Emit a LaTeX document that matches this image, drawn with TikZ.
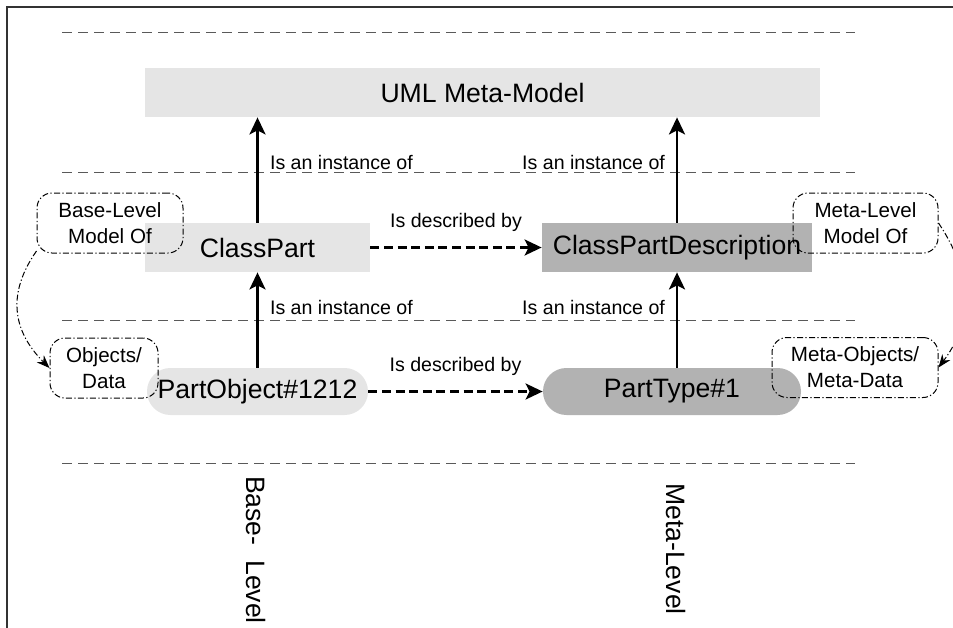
\documentclass[tikz,border=0pt]{standalone}
\usepackage{fontspec}
\setmainfont{Liberation Sans}
\usetikzlibrary{arrows.meta}
\tikzset{
	box/.style={
		fill = gray!20,
		minimum height = 24.5pt,
		inner sep = 0pt,
		font = \fontsize{13.3}{16}\selectfont
	},
	darkbox/.style={
		fill = gray!60
	},
	pill/.style={
		box,
		minimum height = 23.5pt,
		rounded corners = 11.7pt
	},
	note/.style={
		draw,
		line width = 0.5pt,
		dash pattern = on 3pt off 1.2pt on 0.6pt off 1.2pt,
		rounded corners = 7.5pt,
		minimum height = 30pt,
		inner sep = 0pt,
		align = center,
		font = \fontsize{10.3}{13}\selectfont
	},
	link/.style={
		line width = 0.5pt,
		dash pattern = on 3pt off 1.2pt on 0.6pt off 1.2pt,
		-{Stealth[length=6.5pt,width=5pt]}
	},
	inst/.style={
		line width = 1.25pt,
		->
	},
	desc/.style={
		inst,
		dash pattern = on 4.5pt off 2.3pt
	},
	sep/.style={
		black!65,
		line width = 0.5pt,
		dash pattern = on 5pt off 3pt
	},
	frame/.style={
		black!80,
		line width = 1pt
	},
}
\tikzset{>={Stealth[length=8.5pt,width=8pt,inset=2pt]}}

\begin{document}
\begin{tikzpicture}[x=0.5pt, y=-0.5pt, font=\fontsize{9.8}{12}\selectfont]
    \clip (0,0) rectangle (953,627);
    \draw[frame] (7,640) -- (7,7) -- (960,7);
    \foreach \y in {32,172,320,463}{
      \draw[sep] (62,\y) -- (855,\y);
    }
    % models and objects
    \node[box, minimum width=337.5pt] (uml) at (482.5,92.5) {UML Meta-Model};
    \node[box, minimum width=112.5pt] (cp) at (257.5,247.5) {ClassPart};
    \node[box, darkbox, minimum width=135pt] (cpd) at (677,247.5) {ClassPartDescription};
    \node[pill, minimum width=110.5pt] (po) at (257.5,391.5) {PartObject\#1212};
    \node[pill, darkbox, minimum width=129pt] (pt) at (672,391.5) {PartType\#1};
    % instance-of and described-by relations
    \draw[inst] (cp.north) -- (cp.north |- uml.south);
    \draw[inst] (cpd.north) -- (cpd.north |- uml.south);
    \draw[inst] (po.north) -- (po.north |- cp.south);
    \draw[inst] (cpd.south |- pt.north) -- (cpd.south);
    \node[anchor=west] at (263,162) {Is an instance of};
    \node[anchor=east] at (672,162) {Is an instance of};
    \node[anchor=west] at (263,307) {Is an instance of};
    \node[anchor=east] at (672,307) {Is an instance of};
    \draw[desc] (cp) -- node[above=4pt] {Is described by} (cpd);
    \draw[desc] (po) -- node[above=4pt] {Is described by} (pt);
    % side notes
    \node[note, minimum width=73pt] (bn) at (110,223) {Base-Level\\Model Of};
    \node[note, minimum width=54pt] (on) at (104,368) {Objects/\\Data};
    \node[note, minimum width=72.5pt] (mn) at (865.5,223) {Meta-Level\\Model Of};
    \node[note, minimum width=83pt] (mon) at (855,367.5) {Meta-Objects/\\Meta-Data};
    \draw[link] ([yshift=-14]bn.west) .. controls +(-35,50) and +(-30,-30) .. (on.west);
    \draw[link] (mn.east) .. controls +(40,60) and +(30,-40) .. (mon.east);
    % level names
    \node[font=\fontsize{13.3}{16}\selectfont, rotate=-90] (bl) at (256,550) {Base-~ Level};
    \node[font=\fontsize{13.3}{16}\selectfont, rotate=-90] (ml) at (676,549) {Meta-Level};
\end{tikzpicture}
\end{document}
